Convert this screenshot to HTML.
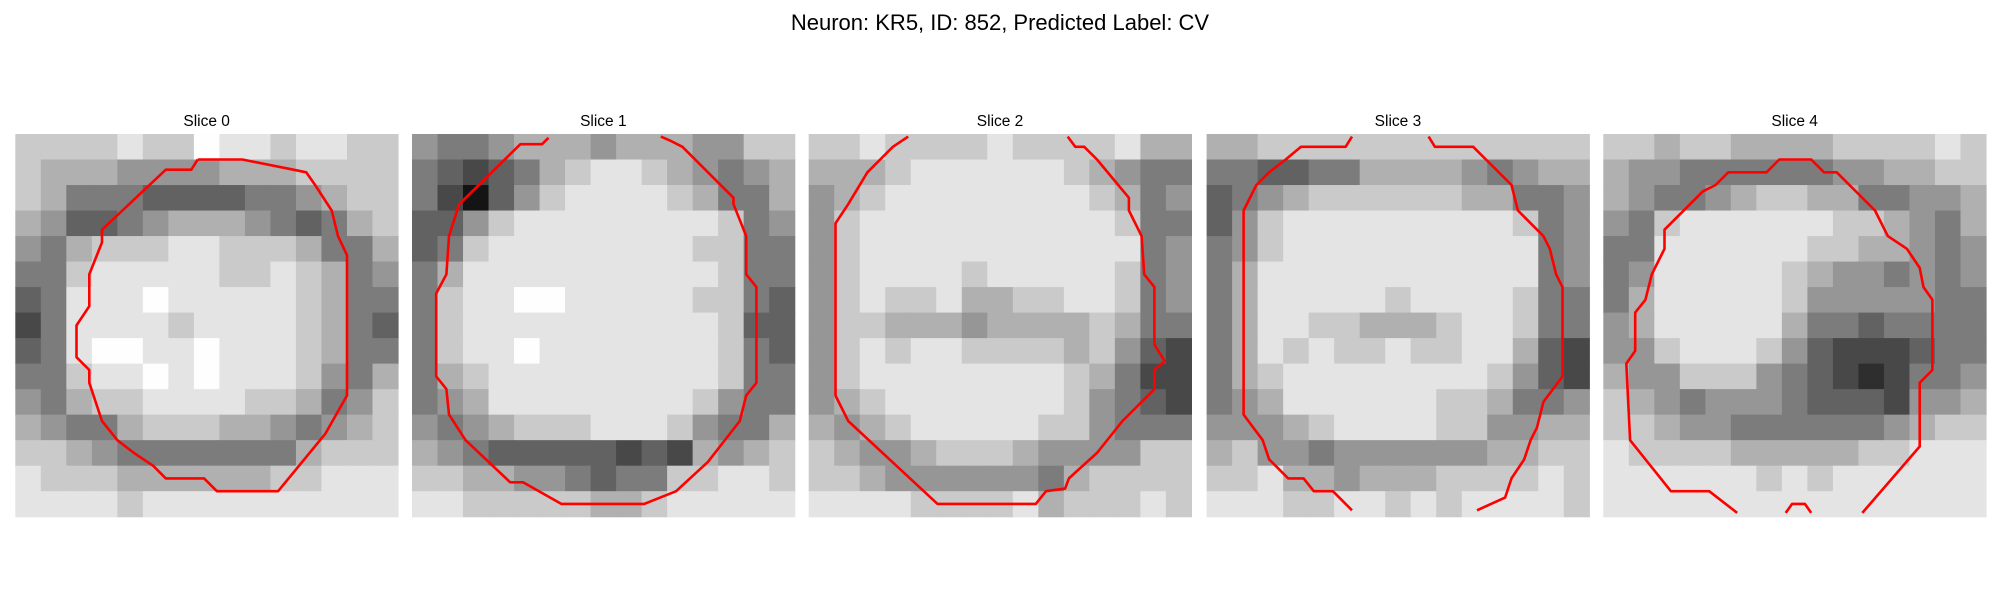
<!DOCTYPE html>
<html><head><meta charset="utf-8"><style>
html,body{margin:0;padding:0;background:#fff;}
svg{display:block;font-family:"Liberation Sans","DejaVu Sans",sans-serif;}
</style></head>
<body>
<svg id="fig" width="2000" height="600" viewBox="0 0 2000 600">
<text x="1000" y="30" text-anchor="middle" font-size="22" fill="#000">Neuron: KR5, ID: 852, Predicted Label: CV</text>
</svg>
<script>
const slices=["Slice 0","Slice 1","Slice 2","Slice 3","Slice 4"];
const img0=["777787798878877","766655556667777","764443333445677","653345666543467","546777887776446","447888887787645","348889888887644","248888788887643","348998898887644","447889898887546","546778888776457","654467776654567","776544444446777","877766666677888","888878888888888"];
const img1=["544566656665577","432346788765456","420357888876446","335788888888745","347888888887744","468888888888744","478899888887743","478888888888733","478898888888743","467888888888744","456888888887544","545677788875446","654333332326567","776655434477887","887777766788888"];
const img2=["778777787777866","666788888876544","567888888887645","578888888888744","578888888888845","578888788888745","578778667788745","577666566667644","578788777767532","578888888876422","567888888875432","656788888775444","765567776555577","776555555467777","888877778677787"];
const img3=["667777777777777","443344666654566","345677777766445","357888888888745","457888888888845","468888888888845","468888878888744","468877666788744","468787787788632","467888888887532","456888888776445","555678888775566","675545555556677","778665666777787","888778878788887"];
const img4=["776776666777787","655444444556677","654456776644556","547888888776546","448888887766545","458888876554545","468888875555544","568888864434444","557888753222344","655777543212445","765455543332556","776554444445677","877776666677888","888888787888888","888888888888888"];
const images=[img0,img1,img2,img3,img4];
const contour0=[[[14.3,2],[17.8,2],[21.8,2.8],[22.8,3],[23.5,4],[24.8,6],[25.3,8],[26,9.5],[26,20.5],[24.3,23.5],[20.6,28],[15.8,28],[14.8,27],[11.8,27],[10.8,26],[9.3,25],[8,24],[6.8,22.5],[5.8,19.5],[5.8,18.5],[4.8,17.5],[4.8,15],[5.8,13.5],[5.8,11],[6.8,8.5],[6.8,7.5],[11.8,2.8],[13.8,2.8],[14.3,2]]];
const contour1=[[[10.7,0.3],[10.2,0.8],[8.5,0.8],[3.7,5.5],[2.9,8],[2.7,11],[1.9,12.5],[1.9,19],[2.7,20],[2.9,22],[4.2,24],[7.7,27.3],[8.7,27.3],[11.7,29],[18.2,29],[20.7,28],[23.2,25.7],[25.7,22.5],[26.2,20.5],[27,19.5],[27,12],[26.2,11],[26.2,8],[25.2,5.5],[25.2,5],[21.2,1],[20.2,0.5],[19.5,0.2]]];
const contour2=[[[7.8,0.2],[6.6,1],[4.6,3],[3.1,5.5],[2.1,7],[2.1,20.5],[3.1,22.5],[10.1,29],[17.8,29],[18.6,28],[20.1,27.8],[20.4,27],[22.6,25],[24.6,22.5],[27.1,20],[27.1,18.5],[27.9,17.8],[27.1,16.5],[27.1,12],[26.3,11],[26.1,8],[25.1,6],[25.1,5],[22.6,2],[21.6,1],[20.9,1],[20.3,0.2]]];
const contour3=[[[11.4,0.2],[10.9,1],[7.4,1],[6.2,2],[4.9,3],[3.9,4],[2.9,6],[2.9,22],[4.4,24],[4.9,25.5],[6.4,27],[7.6,27],[8.4,28],[9.9,28],[11.4,29.5]],[[17.4,0.2],[17.9,1],[20.9,1],[23.9,4],[24.4,6],[26.4,8],[26.9,9],[27.4,11],[27.9,12],[27.9,19],[26.4,21],[25.9,23],[25.4,24],[24.9,25.5],[23.9,27],[23.4,28.5],[21.2,29.5]]];
const contour4=[[[10.5,29.7],[8.3,28],[5.3,28],[2.1,24],[1.8,18],[2.5,17],[2.5,14],[3.3,13],[3.8,11],[4.8,9],[4.8,7.5],[7.8,4.5],[8.8,4],[9.8,3],[12.8,3],[13.8,2],[16.3,2],[17.3,3],[18.3,3],[21.3,6],[22.3,8],[23.8,9],[24.8,10.5],[25.1,12],[25.8,13],[25.8,18.5],[24.8,19.5],[24.8,24.5],[20.3,29.7]],[[14.3,29.7],[14.8,29],[15.8,29],[16.3,29.7]]];
const contours=[contour0,contour1,contour2,contour3,contour4];

const NS="http://www.w3.org/2000/svg";
const svg=document.getElementById('fig');
const panelX=[15.3,412,808.7,1206.6,1603.3];
const panelTop=134, panelSize=382.7;
function gray(d){const v=Math.round(20+d*26);return `rgb(${v},${v},${v})`;}
slices.forEach((name,i)=>{
  const g=document.createElementNS(NS,'g');
  
  
  svg.appendChild(g);
  const px=panelX[i];
  const t=document.createElementNS(NS,'text');
  
  
  t.setAttribute('x',px+panelSize/2);t.setAttribute('y',126);
  t.setAttribute('text-anchor','middle');t.setAttribute('font-size','15.5');
  t.textContent=name;g.appendChild(t);
  const rows=images[i];const n=rows.length;const cs=panelSize/n;
  rows.forEach((row,r)=>{for(let c=0;c<row.length;c++){
    const rc=document.createElementNS(NS,'rect');
    
    
    rc.setAttribute('x',px+c*cs);rc.setAttribute('y',panelTop+r*cs);
    rc.setAttribute('width',cs+0.6);rc.setAttribute('height',cs+0.6);
    rc.setAttribute('fill',gray(+row[c]));g.appendChild(rc);}});
  const u=panelSize/30;
  contours[i].forEach(seg=>{
    const pl=document.createElementNS(NS,'polyline');
    
    
    pl.setAttribute('points',seg.map(p=>(px+p[0]*u).toFixed(1)+','+(panelTop+p[1]*u).toFixed(1)).join(' '));
    pl.setAttribute('fill','none');pl.setAttribute('stroke','#ff0000');
    pl.setAttribute('stroke-width','2.6');pl.setAttribute('stroke-linejoin','round');
    g.appendChild(pl);});
});
</script>
</body></html>
